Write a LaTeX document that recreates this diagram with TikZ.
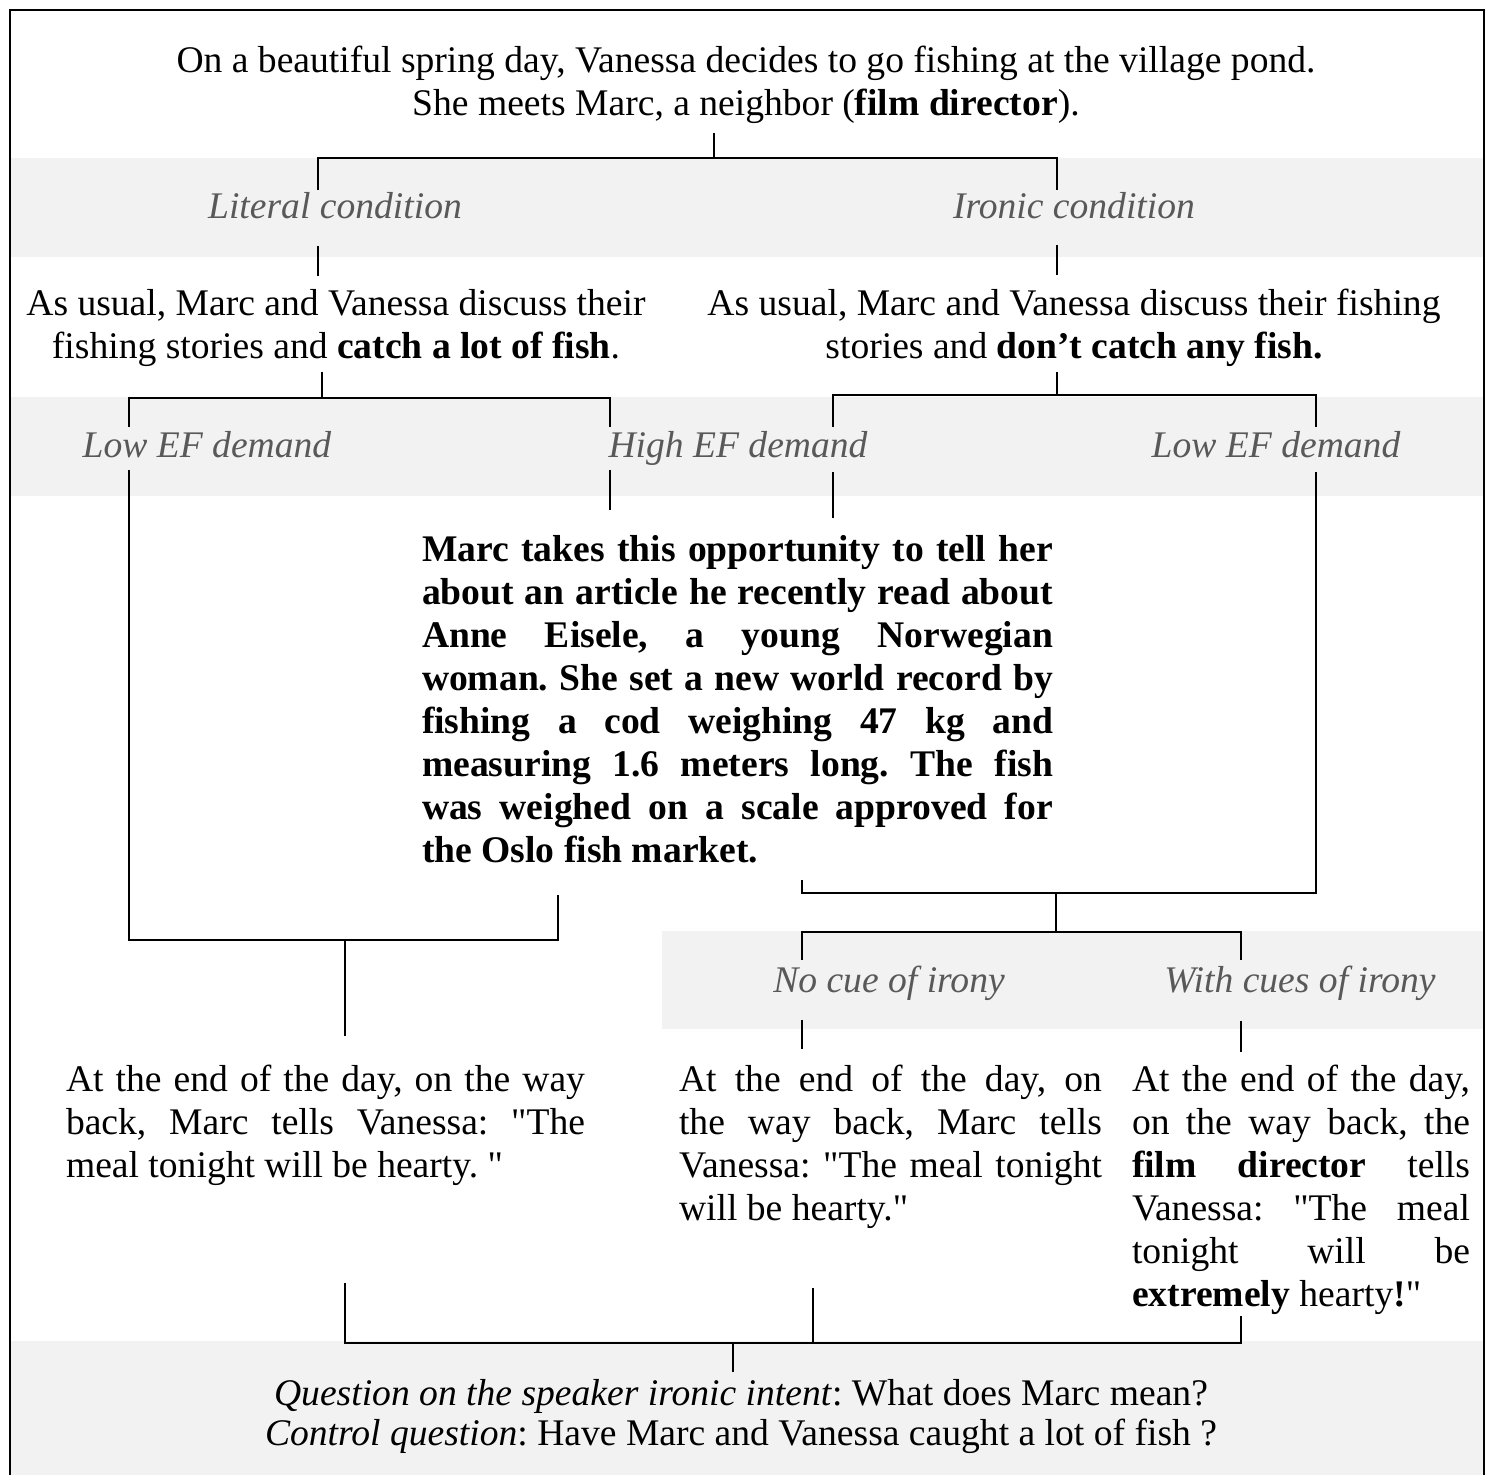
\documentclass[tikz,border=0pt]{standalone}
\usepackage{fontspec}
\setmainfont{Liberation Serif}[Ligatures=TeXOff]
\definecolor{bandgray}{HTML}{F2F2F2}
\definecolor{labgray}{HTML}{595959}
\newcommand\bodysize{\fontsize{18.8pt}{21.5pt}\selectfont}
\newcommand\jline[1]{\makebox[\linewidth][s]{#1}}
\frenchspacing
\begin{document}
\frenchspacing
\begin{tikzpicture}[x=0.5pt,y=-0.5pt,
  txt/.style={inner sep=0pt, outer sep=0pt, font=\bodysize},
  lab/.style={inner sep=0pt, outer sep=0pt, text=labgray, font=\bodysize\itshape, anchor=base},
  conn/.style={line width=1.1pt, black},
  band/.style={fill=bandgray, draw=none}]
\useasboundingbox (0,0) rectangle (1493,1475);
% grey bands
\path[band] (10,158) rectangle (1484,257);
\path[band] (10,397) rectangle (1484,496);
\path[band] (662,931) rectangle (1484,1029);
\path[band] (10,1341) rectangle (1484,1475);
% frame (bottom edge cut off by the page)
\draw[line width=1.3pt] (10,1475) -- (10,10) -- (1484,10) -- (1484,1475);

% texts
\node[txt, anchor=base] (intro) at (746,73) {\parbox[t]{720pt}{\centering On a beautiful spring day, Vanessa decides to go fishing at the village pond.\\ She meets Marc, a neighbor (\textbf{film director}).}};
\node[lab] (lit) at (335,219) {Literal condition};
\node[lab] (iro) at (1074,219) {Ironic condition};
\node[txt, anchor=base] (litS) at (336,316) {\parbox[t]{340pt}{\centering As usual, Marc and Vanessa discuss their\\ fishing stories and \textbf{catch a lot of fish}.}};
\node[txt, anchor=base] (iroS) at (1074,316) {\parbox[t]{390pt}{\centering As usual, Marc and Vanessa discuss their fishing\\ stories and \textbf{don’t catch any fish.}}};
\node[lab] (lowL) at (207,458) {Low EF demand};
\node[lab] (high) at (738,458) {High EF demand};
\node[lab] (lowR) at (1276,458) {Low EF demand};
\node[txt, anchor=base west] (story) at (422,562) {\parbox[t]{315.5pt}{\bfseries
\jline{Marc takes this opportunity to tell her}\\
\jline{about an article he recently read about}\\
\jline{Anne Eisele, a young Norwegian}\\
\jline{woman. She set a new world record by}\\
\jline{fishing a cod weighing 47 kg and}\\
\jline{measuring 1.6 meters long. The fish}\\
\jline{was weighed on a scale approved for}\\
the Oslo fish market.}};
\node[lab] (nocue) at (889,992) {No cue of irony};
\node[lab] (cues) at (1300,992) {With cues of irony};
\node[txt, anchor=base west] (endL) at (66,1091) {\parbox[t]{259.5pt}{\jline{At the end of the day, on the way}\\
\jline{back, Marc tells Vanessa: "The}\\
meal tonight will be hearty. "}};
\node[txt, anchor=base west] (endM) at (679,1091) {\parbox[t]{211.5pt}{\jline{At the end of the day, on}\\
\jline{the way back, Marc tells}\\
\jline{Vanessa: "The meal tonight}\\
will be hearty."}};
\node[txt, anchor=base west] (endR) at (1132,1091) {\parbox[t]{169pt}{\jline{At the end of the day,}\\
\jline{on the way back, the}\\
\jline{\textbf{film director} tells}\\
\jline{Vanessa: "The meal}\\
\jline{tonight will be}\\
\textbf{extremely} hearty\textbf{!}"}};
\node[txt, anchor=base] (quest) at (741,1405) {\parbox[t]{700pt}{\setlength\baselineskip{20pt}\centering \textit{Question on the speaker ironic intent}: What does Marc mean?\\
\textit{Control question}: Have Marc and Vanessa caught a lot of fish ?}};

% connector coordinates
\coordinate (t0) at (714,133); \coordinate (t1) at (714,158);
\coordinate (tl) at (318,158); \coordinate (tr) at (1057,158);
\coordinate (tl1) at (318,190); \coordinate (tr1) at (1057,190);
\coordinate (la) at (318,246); \coordinate (lb) at (318,276);
\coordinate (ia) at (1057,245); \coordinate (ib) at (1057,275);
\coordinate (l0) at (322,372); \coordinate (l1) at (322,398);
\coordinate (ll) at (129,398); \coordinate (lr) at (610,398);
\coordinate (ll1) at (129,427); \coordinate (lr1) at (610,427);
\coordinate (r0) at (1057,372); \coordinate (r1) at (1057,395);
\coordinate (rl) at (833,395); \coordinate (rr) at (1316,395);
\coordinate (rl1) at (833,427); \coordinate (rr1) at (1316,427);
\coordinate (lowLa) at (129,470); \coordinate (lowLb) at (129,940);
\coordinate (highLa) at (610,470); \coordinate (highLb) at (610,510);
\coordinate (highRa) at (833,472); \coordinate (highRb) at (833,518);
\coordinate (lowRa) at (1316,472); \coordinate (lowRb) at (1316,893);
\coordinate (storyR) at (802,880); \coordinate (storyRb) at (802,893);
\coordinate (storyL) at (558,895); \coordinate (storyLb) at (558,940);
\coordinate (m0) at (1056,893); \coordinate (m1) at (1056,932);
\coordinate (ml) at (802,932); \coordinate (mr) at (1241,932);
\coordinate (ml1) at (802,960); \coordinate (mr1) at (1241,960);
\coordinate (b0) at (345,940); \coordinate (b1) at (345,1036);
\coordinate (na) at (802,1020); \coordinate (nb) at (802,1049);
\coordinate (ca) at (1241,1021); \coordinate (cb) at (1241,1052);
\coordinate (eL) at (345,1283); \coordinate (eLb) at (345,1343);
\coordinate (eM) at (813,1288); \coordinate (eMb) at (813,1343);
\coordinate (eR) at (1241,1316); \coordinate (eRb) at (1241,1343);
\coordinate (q0) at (733,1343); \coordinate (q1) at (733,1372);

% connectors
\draw[conn] (t0) -- (t1);
\draw[conn] (tl1) -- (tl) -- (tr) -- (tr1);
\draw[conn] (la) -- (lb);
\draw[conn] (ia) -- (ib);
\draw[conn] (l0) -- (l1);
\draw[conn] (ll1) -- (ll) -- (lr) -- (lr1);
\draw[conn] (r0) -- (r1);
\draw[conn] (rl1) -- (rl) -- (rr) -- (rr1);
\draw[conn] (lowLa) -- (lowLb) -- (storyLb) -- (storyL);
\draw[conn] (highLa) -- (highLb);
\draw[conn] (highRa) -- (highRb);
\draw[conn] (lowRa) -- (lowRb) -- (storyRb) -- (storyR);
\draw[conn] (m0) -- (m1);
\draw[conn] (ml1) -- (ml) -- (mr) -- (mr1);
\draw[conn] (b0) -- (b1);
\draw[conn] (na) -- (nb);
\draw[conn] (ca) -- (cb);
\draw[conn] (eL) -- (eLb) -- (eRb) -- (eR);
\draw[conn] (eM) -- (eMb);
\draw[conn] (q0) -- (q1);
\end{tikzpicture}
\end{document}
